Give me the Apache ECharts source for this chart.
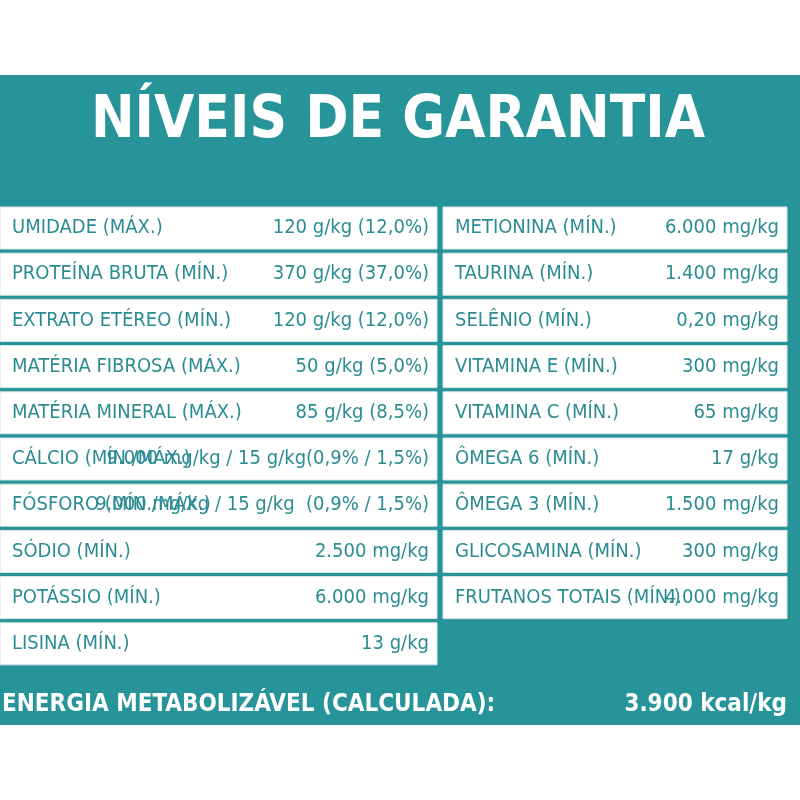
<!DOCTYPE html>
<html><head><meta charset="utf-8">
<script src="https://cdn.jsdelivr.net/npm/echarts@6/dist/echarts.min.js"></script>
<style>html,body{margin:0;padding:0;background:#fff}#c{width:800px;height:800px}</style>
</head><body><div id="c"></div>
<script>
const title = "NÍVEIS DE GARANTIA";
const leftLabels = ["UMIDADE (MÁX.)","PROTEÍNA BRUTA (MÍN.)","EXTRATO ETÉREO (MÍN.)","MATÉRIA FIBROSA (MÁX.)","MATÉRIA MINERAL (MÁX.)","CÁLCIO (MÍN./MÁX.)","FÓSFORO (MÍN./MÁX.)","SÓDIO (MÍN.)","POTÁSSIO (MÍN.)","LISINA (MÍN.)"];
const leftValues = ["120 g/kg (12,0%)","370 g/kg (37,0%)","120 g/kg (12,0%)","50 g/kg (5,0%)","85 g/kg (8,5%)","9.000 mg/kg / 15 g/kg(0,9% / 1,5%)","9.000 mg/kg / 15 g/kg  (0,9% / 1,5%)","2.500 mg/kg","6.000 mg/kg","13 g/kg"];
const rightLabels = ["METIONINA (MÍN.)","TAURINA (MÍN.)","SELÊNIO (MÍN.)","VITAMINA E (MÍN.)","VITAMINA C (MÍN.)","ÔMEGA 6 (MÍN.)","ÔMEGA 3 (MÍN.)","GLICOSAMINA (MÍN.)","FRUTANOS TOTAIS (MÍN.)"];
const rightValues = ["6.000 mg/kg","1.400 mg/kg","0,20 mg/kg","300 mg/kg","65 mg/kg","17 g/kg","1.500 mg/kg","300 mg/kg","4.000 mg/kg"];
const energyLabel = "ENERGIA METABOLIZÁVEL (CALCULADA):";
const energyValue = "3.900 kcal/kg";

const TEAL = "#27949a", TXT = "#2a8c92";
const FONT = "'Liberation Sans Narrow','DejaVu Sans Condensed',sans-serif";
const cols = [[0,437],[443,787]];
const data = [];
leftLabels.forEach((l,i)=>data.push([0,i,l,leftValues[i]]));
rightLabels.forEach((l,i)=>data.push([1,i,l,rightValues[i]]));

const chart = echarts.init(document.getElementById('c'));
chart.setOption({
  animation:false,
  backgroundColor:'#fff',
  grid:{left:0,right:0,top:0,bottom:0},
  xAxis:{type:'value',min:0,max:800,show:false},
  yAxis:{type:'value',min:0,max:800,inverse:true,show:false},
  graphic:[
    {type:'rect',shape:{x:0,y:75,width:800,height:650},style:{fill:TEAL},z:-1},
    {type:'text',x:398,y:122,style:{text:title,fill:'#fff',font:"bold 58px "+FONT,align:'center',verticalAlign:'middle'}},
    {type:'text',x:2,y:705,style:{text:energyLabel,fill:'#fff',font:"bold 24px "+FONT,align:'left',verticalAlign:'middle'}},
    {type:'text',x:787,y:705,style:{text:energyValue,fill:'#fff',font:"bold 24px "+FONT,align:'right',verticalAlign:'middle'}}
  ],
  series:[{
    type:'custom',
    data:data,
    renderItem:function(params,api){
      const c = cols[api.value(0)], r = api.value(1);
      const d = data[params.dataIndex];
      const p0 = api.coord([c[0], 207+r*46.2]);
      const p1 = api.coord([c[1], 207+r*46.2+42]);
      const h = p1[1]-p0[1], my = p0[1]+h/2;
      return {type:'group',children:[
        {type:'rect',shape:{x:p0[0],y:p0[1],width:p1[0]-p0[0],height:h},style:{fill:'#fff',stroke:'#d9e6e7',lineWidth:1}},
        {type:'text',style:{x:p0[0]+12,y:my,text:d[2],fill:TXT,font:"20px "+FONT,verticalAlign:'middle'}},
        {type:'text',style:{x:p1[0]-8,y:my,text:d[3],fill:TXT,font:"20px "+FONT,align:'right',verticalAlign:'middle'}}
      ]};
    }
  }]
});
</script></body></html>
